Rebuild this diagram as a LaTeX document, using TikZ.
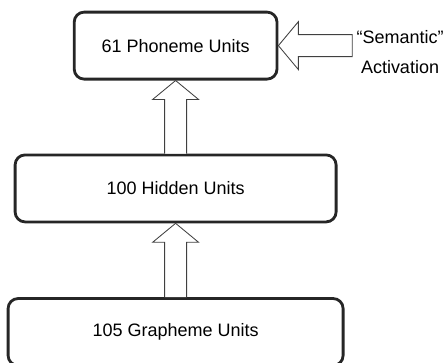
\documentclass[tikz,border=0pt]{standalone}
\usepackage{fontspec}
\setmainfont{Liberation Sans}
\usetikzlibrary{calc}

\begin{document}
\begin{tikzpicture}[unit/.style = {draw=black!85, line width=2pt, rounded corners=0.25cm, minimum height=1.675cm, font=\fontsize{12.8}{15}\selectfont},
	hollow/.style = {draw=black!75, line width=0.6pt, fill=white}]
					\useasboundingbox (0,0) rectangle (11.125,-9.05);
					\node[unit, minimum width=5.07cm] (phon) at (4.39,-1.14) {61 Phoneme Units};
					\node[unit, minimum width=8.025cm] (hid) at (4.39,-4.71) {100 Hidden Units};
					\node[unit, minimum width=8.375cm] (graph) at (4.39,-8.3) {105 Grapheme Units};
					\node[align=center, inner sep=0.1cm, font=\fontsize{12.8}{21}\selectfont] (sem) at (10.0,-1.3) {“Semantic”\\Activation};
					
					\draw[hollow] ($(graph.north)+(-0.275,0)$) -- ($(hid.south)+(-0.275,-0.475)$) -- ($(hid.south)+(-0.575,-0.475)$) -- (hid.south) -- ($(hid.south)+(0.575,-0.475)$) -- ($(hid.south)+(0.275,-0.475)$) -- ($(graph.north)+(0.275,0)$);
					\draw[hollow] ($(hid.north)+(-0.275,0)$) -- ($(phon.south)+(-0.275,-0.475)$) -- ($(phon.south)+(-0.575,-0.475)$) -- (phon.south) -- ($(phon.south)+(0.575,-0.475)$) -- ($(phon.south)+(0.275,-0.475)$) -- ($(hid.north)+(0.275,0)$);
					\draw[hollow] ($(sem.west |- phon.east)+(0,0.275)$) -- ($(phon.east)+(0.5,0.275)$) -- ($(phon.east)+(0.5,0.6)$) -- (phon.east) -- ($(phon.east)+(0.5,-0.6)$) -- ($(phon.east)+(0.5,-0.275)$) -- ($(sem.west |- phon.east)+(0,-0.275)$) -- cycle;
				\end{tikzpicture}
\end{document}
